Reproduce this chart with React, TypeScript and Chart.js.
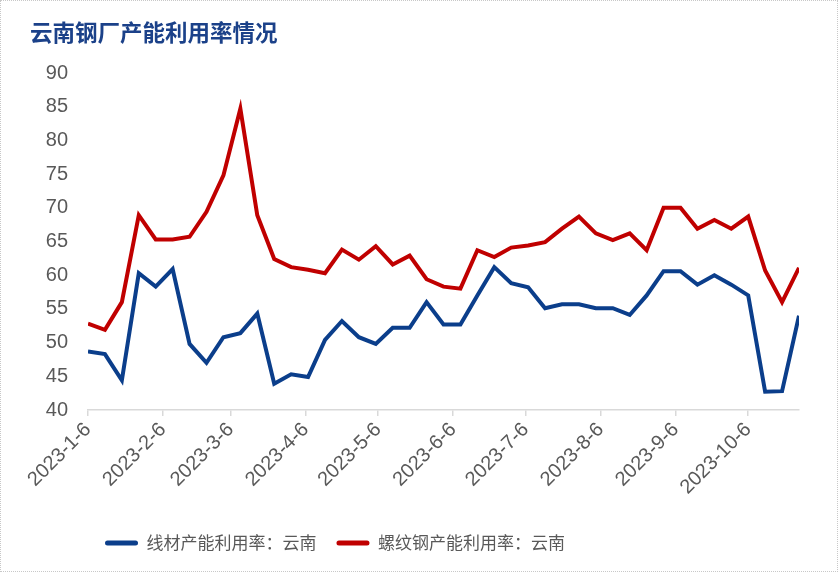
import React, { useEffect, useRef } from "react";
import { Chart, registerables } from "chart.js";

Chart.register(...registerables);

const titleText = "云南钢厂产能利用率情况";
const seriesNames = ["线材产能利用率：云南", "螺纹钢产能利用率：云南"];
const seriesColors = ["#0b3e8b", "#c00000"];

const dates = [
  "2023-1-6", "2023-1-13", "2023-1-20", "2023-1-27",
  "2023-2-3", "2023-2-10", "2023-2-17", "2023-2-24",
  "2023-3-3", "2023-3-10", "2023-3-17", "2023-3-24", "2023-3-31",
  "2023-4-7", "2023-4-14", "2023-4-21", "2023-4-28",
  "2023-5-5", "2023-5-12", "2023-5-19", "2023-5-26",
  "2023-6-2", "2023-6-9", "2023-6-16", "2023-6-23", "2023-6-30",
  "2023-7-7", "2023-7-14", "2023-7-21", "2023-7-28",
  "2023-8-4", "2023-8-11", "2023-8-18", "2023-8-25",
  "2023-9-1", "2023-9-8", "2023-9-15", "2023-9-22", "2023-9-29",
  "2023-10-6", "2023-10-13", "2023-10-20", "2023-10-27",
];

const wireRod = [
  48.7, 48.3, 44.4, 60.3, 58.3, 60.9, 49.8, 47.0, 50.8, 51.4, 54.3, 43.9, 45.3,
  44.9, 50.4, 53.2, 50.8, 49.8, 52.2, 52.2, 56.0, 52.7, 52.7, 57.0, 61.2, 58.8,
  58.2, 55.1, 55.7, 55.7, 55.1, 55.1, 54.1, 57.0, 60.6, 60.6, 58.6, 60.0, 58.6,
  57.0, 42.7, 42.8, 54.0,
];

const rebar = [
  52.8, 51.9, 56.0, 68.9, 65.3, 65.3, 65.7, 69.4, 74.8, 84.7, 68.9, 62.4, 61.2,
  60.8, 60.3, 63.8, 62.3, 64.3, 61.6, 62.9, 59.4, 58.3, 58.0, 63.7, 62.7, 64.1,
  64.4, 64.9, 66.9, 68.7, 66.2, 65.2, 66.2, 63.7, 70.0, 70.0, 66.9, 68.2, 66.9,
  68.7, 60.7, 56.0, 61.1,
];

const xTickLabels = [
  "2023-1-6", "2023-2-6", "2023-3-6", "2023-4-6", "2023-5-6",
  "2023-6-6", "2023-7-6", "2023-8-6", "2023-9-6", "2023-10-6",
];

const yMin = 40;
const yMax = 90;
const yStep = 5;

function dayOf(s: string): number {
  const [y, m, d] = s.split("-").map(Number);
  return Date.UTC(y, m - 1, d) / 86400000;
}
const base = dayOf(dates[0]);
const offset = (s: string) => dayOf(s) - base;

export default function App() {
  const ref = useRef<HTMLCanvasElement | null>(null);

  useEffect(() => {
    document.body.style.margin = "0";
    const canvas = ref.current;
    if (!canvas) return;

    const tickValues = xTickLabels.map(offset);
    const tickLabelMap = new Map<number, string>();
    xTickLabels.forEach((l) => tickLabelMap.set(offset(l), l));

    const legendShift = {
      id: "legendShift",
      afterLayout(chart: any) {
        const lg = chart.legend;
        if (lg) {
          const w = lg.right - lg.left;
          lg.left = 85;
          lg.right = 85 + w;
        }
      },
    };

    const chart = new Chart(canvas, {
      type: "line",
      data: {
        datasets: [
          {
            label: seriesNames[0],
            data: dates.map((d, i) => ({ x: offset(d), y: wireRod[i] })),
            borderColor: seriesColors[0],
            backgroundColor: seriesColors[0],
            borderWidth: 4,
            pointRadius: 0,
            tension: 0,
          },
          {
            label: seriesNames[1],
            data: dates.map((d, i) => ({ x: offset(d), y: rebar[i] })),
            borderColor: seriesColors[1],
            backgroundColor: seriesColors[1],
            borderWidth: 4,
            pointRadius: 0,
            tension: 0,
          },
        ],
      },
      options: {
        animation: false,
        responsive: false,
        maintainAspectRatio: false,
        layout: { padding: { left: 30, right: 39, top: 0, bottom: 10.5 } },
        plugins: {
          title: {
            display: true,
            text: titleText,
            align: "start",
            color: "#1b4189",
            font: { family: "'Noto Sans CJK SC'", size: 22.5, weight: "bold" },
            padding: { top: 19, bottom: 27 },
          },
          legend: {
            position: "bottom",
            align: "start",
            labels: {
              boxWidth: 33,
              boxHeight: 5,
              padding: 20,
              color: "#595959",
              font: { family: "'Noto Sans CJK SC'", size: 17 },
              generateLabels: (c: any) =>
                c.data.datasets.map((ds: any, i: number) => ({
                  text: ds.label,
                  fillStyle: ds.borderColor,
                  strokeStyle: ds.borderColor,
                  lineWidth: 0,
                  borderRadius: 2.5,
                  fontColor: "#595959",
                  hidden: false,
                  datasetIndex: i,
                })),
            },
          },
          tooltip: { enabled: false },
        },
        scales: {
          x: {
            type: "linear",
            min: 0,
            max: offset(dates[dates.length - 1]),
            grid: {
              display: true,
              drawOnChartArea: false,
              drawTicks: true,
              tickLength: 6,
              color: "#d9d9d9",
              lineWidth: 1.5,
            },
            border: { display: true, color: "#d9d9d9", width: 1.5 },
            afterBuildTicks: (scale: any) => {
              scale.ticks = tickValues.map((v) => ({ value: v }));
            },
            afterFit: (scale: any) => {
              scale.height = 104.5;
            },
            ticks: {
              autoSkip: false,
              maxRotation: 45,
              minRotation: 45,
              padding: 2,
              color: "#595959",
              font: { family: "'Liberation Sans', Arial", size: 20 },
              callback: (v: any) => tickLabelMap.get(Number(v)) ?? "",
            },
          },
          y: {
            min: yMin,
            max: yMax,
            grid: { display: false, drawTicks: false },
            border: { display: false },
            afterFit: (scale: any) => {
              scale.width = 58;
            },
            ticks: {
              stepSize: yStep,
              padding: 20,
              color: "#595959",
              font: { family: "'Liberation Sans', Arial", size: 20 },
            },
          },
        },
      },
      plugins: [legendShift],
    } as any);

    return () => chart.destroy();
  }, []);

  return (
    <div style={{ position: "relative", width: 838, height: 572, background: "#fff" }}>
      <canvas ref={ref} width={838} height={572} style={{ position: "absolute", left: 0, top: 0, width: 838, height: 572 }} />
      <div
        style={{
          position: "absolute",
          left: 0,
          top: 0,
          width: 838,
          height: 572,
          boxSizing: "border-box",
          border: "1px dotted #c8c8c8",
          pointerEvents: "none",
        }}
      />
    </div>
  );
}
